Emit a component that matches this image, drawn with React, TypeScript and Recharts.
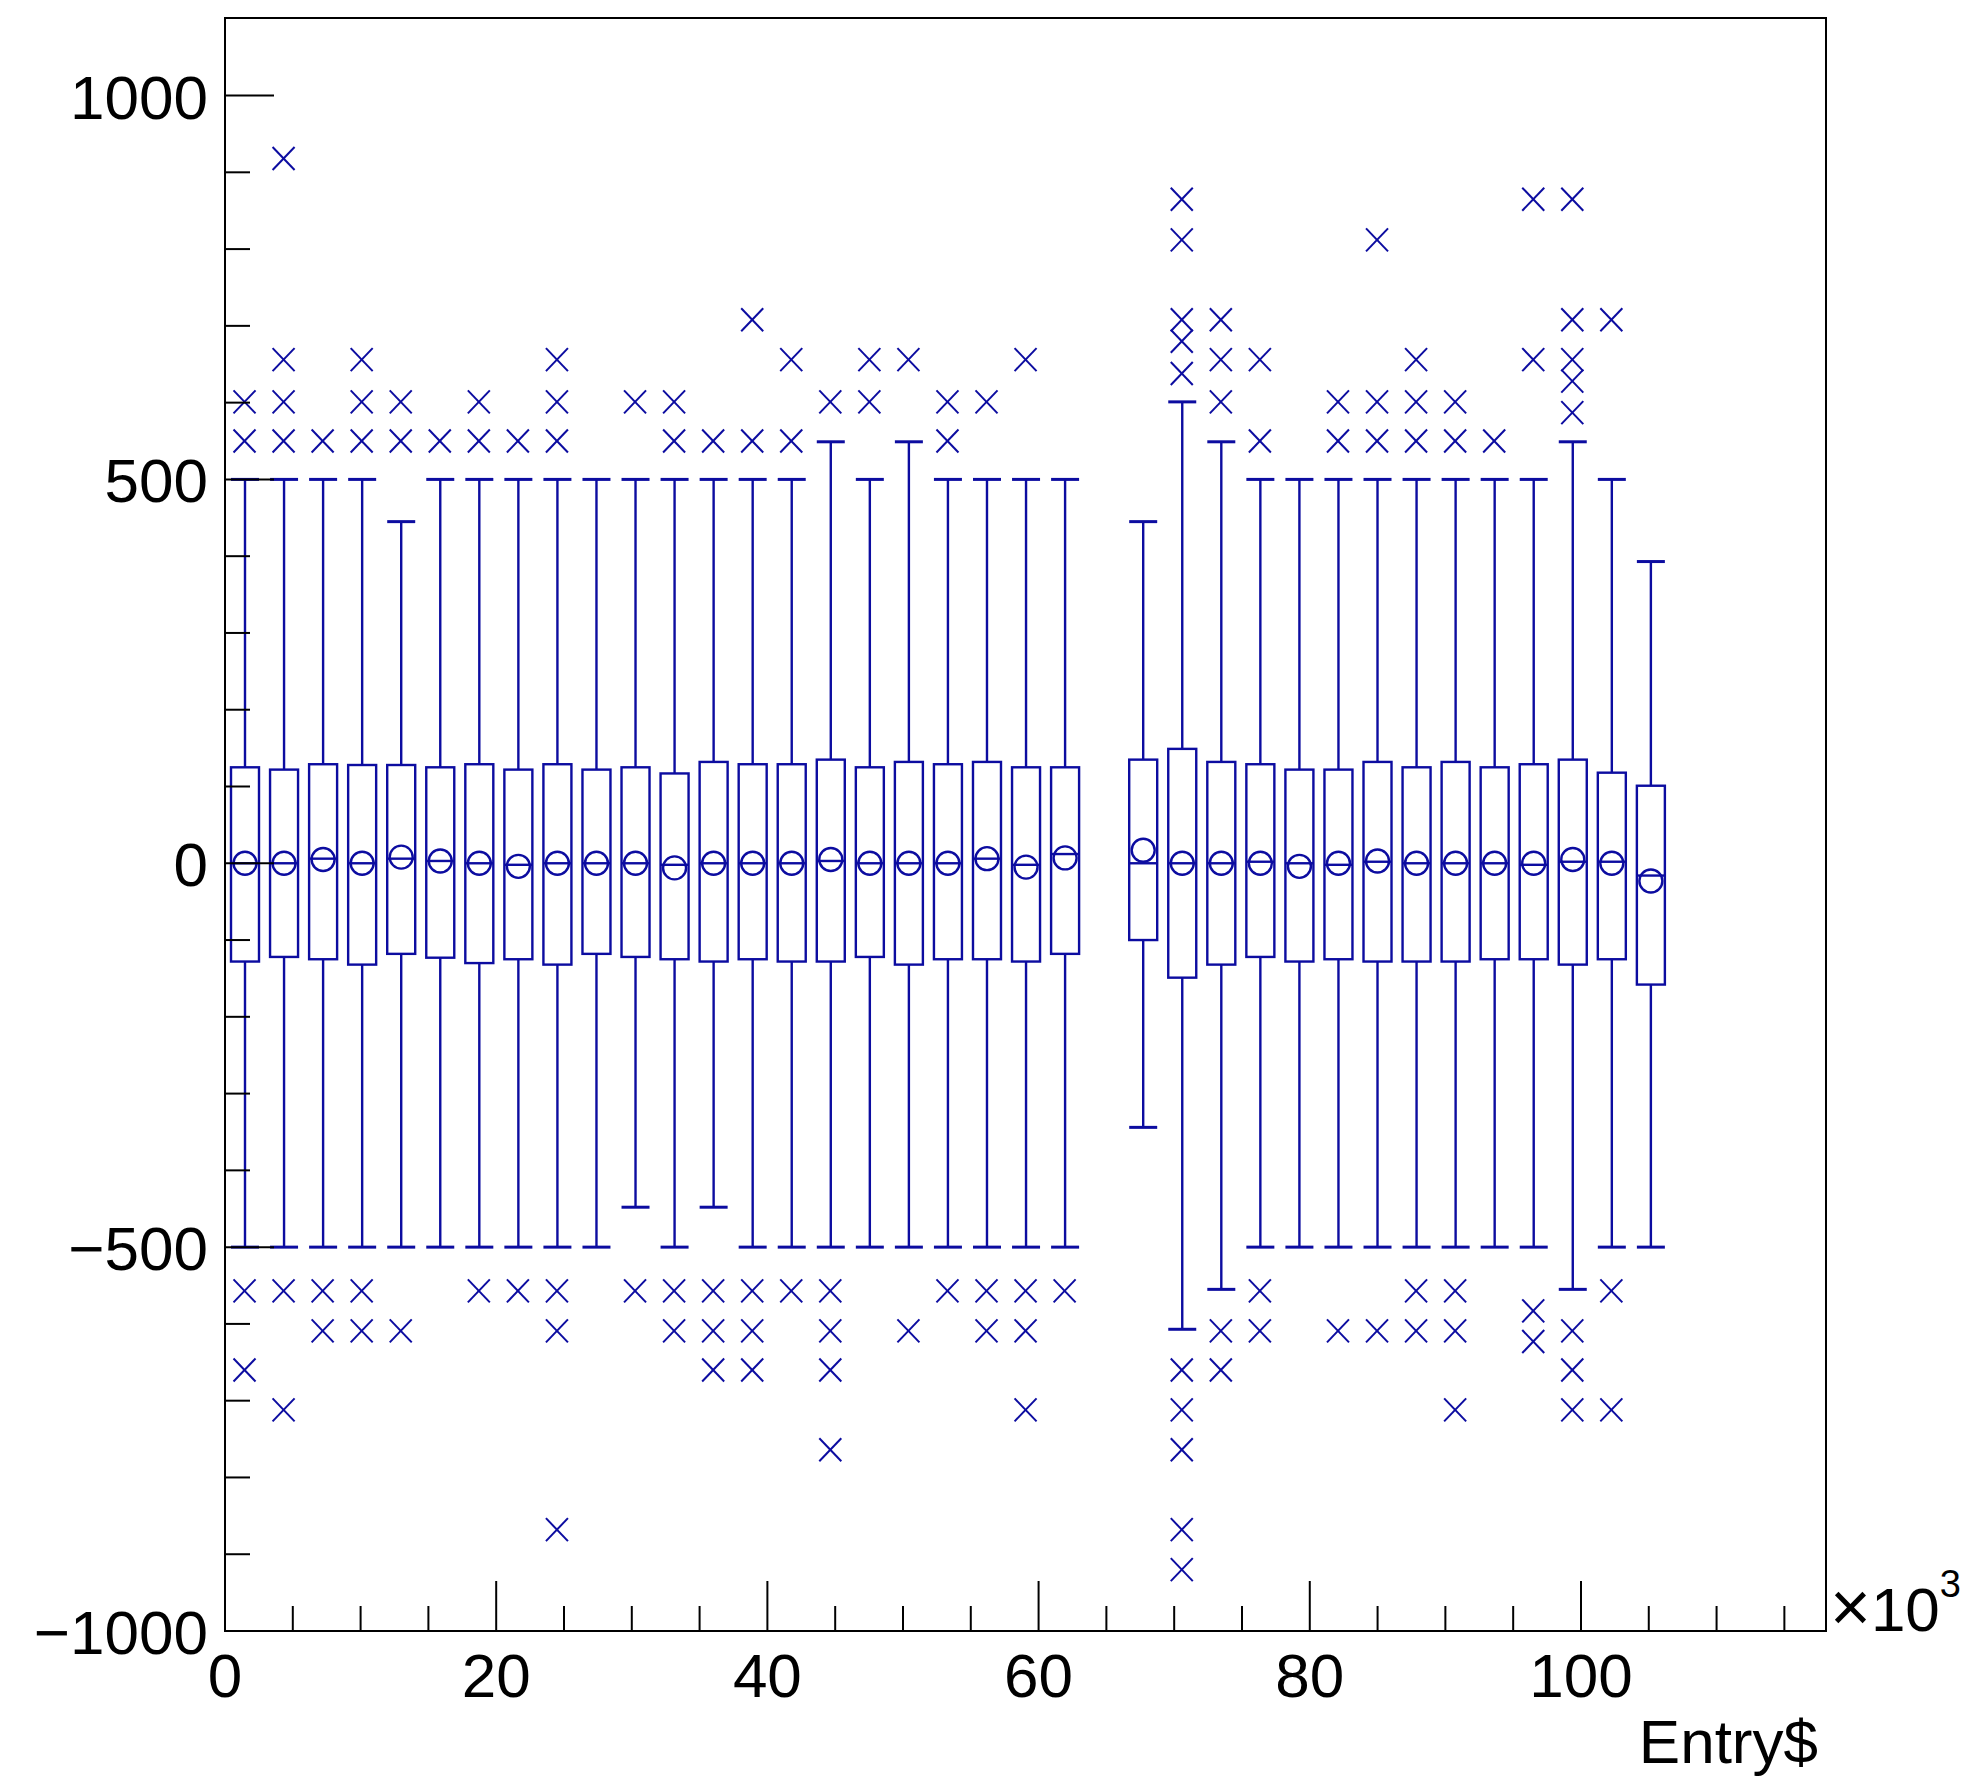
import { Bar, ComposedChart, ReferenceArea, Scatter, XAxis, YAxis } from "recharts"

// bin centres along Entry$ (x10^3), one box per filled bin
const binCenters = [
  1.44, 4.32, 7.2, 10.08, 12.96, 15.84, 18.72, 21.6, 24.48, 27.36, 30.24, 33.12, 36, 38.88, 41.76, 44.64, 47.52,
  50.4, 53.28, 56.16, 59.04, 61.92, 67.68, 70.56, 73.44, 76.32, 79.2, 82.08, 84.96, 87.84, 90.72, 93.6, 96.48,
  99.36, 102.24, 105.12,
]

const upperQuartile = [
  125, 122, 129, 128, 128, 125, 129, 122, 129, 122, 125, 117, 132, 129, 129, 135, 125, 132, 129, 132, 125, 125,
  135, 149, 132, 129, 122, 122, 132, 125, 132, 125, 129, 135, 118, 101,
]
const lowerQuartile = [
  -128, -122, -125, -132, -118, -123, -130, -125, -132, -118, -122, -125, -128, -125, -128, -128, -122, -132, -125,
  -125, -128, -118, -100, -149, -132, -122, -128, -125, -128, -128, -128, -125, -125, -132, -125, -158,
]
const medians = [
  0, 0, 6, 0, 6, 3, 0, -2, 0, 0, 0, -2, 0, 0, 0, 3, 0, 0, 0, 6, -2, 12, 0, 0, 0, 2, 0, -2, 2, 0, 0, 0, -2, 2, 2, -16,
]
const means = [
  0, 0, 5, 0, 8, 3, 0, -4, 0, 0, 0, -6, 0, 0, 0, 5, 0, 0, 0, 6, -5, 7, 17, 0, 0, 0, -4, 0, 3, 0, 0, 0, 0, 5, 0, -23,
]
const whiskerHigh = [
  500, 500, 500, 500, 445, 500, 500, 500, 500, 500, 500, 500, 500, 500, 500, 549, 500, 549, 500, 500, 500, 500,
  445, 601, 549, 500, 500, 500, 500, 500, 500, 500, 500, 549, 500, 393,
]
const whiskerLow = [
  -500, -500, -500, -500, -500, -500, -500, -500, -500, -500, -448, -500, -448, -500, -500, -500, -500, -500, -500,
  -500, -500, -500, -344, -607, -555, -500, -500, -500, -500, -500, -500, -500, -500, -555, -500, -500,
]

const outliersHigh = [
  [550, 601], [550, 601, 656, 918], [550], [550, 601, 656], [550, 601], [550], [550, 601], [550],
  [550, 601, 656], [], [601], [550, 601], [550], [550, 708], [550, 656], [601], [601, 656], [656],
  [550, 601], [601], [656], [],
  [], [638, 680, 708, 812, 865], [601, 656, 708], [550, 656], [], [550, 601], [550, 601, 812],
  [550, 601, 656], [550, 601], [550], [656, 865], [587, 628, 656, 708, 865], [708], [],
]
const outliersLow = [
  [-557, -660], [-557, -712], [-557, -609], [-557, -609], [-609], [], [-557], [-557], [-557, -609, -868], [],
  [-557], [-557, -609], [-557, -609, -660], [-557, -609, -660], [-557], [-557, -609, -660, -764], [], [-609],
  [-557], [-557, -609], [-557, -609, -712], [-557],
  [], [-660, -712, -764, -868, -920], [-609, -660], [-557, -609], [], [-609], [-609], [-557, -609],
  [-557, -609, -712], [], [-583, -623], [-609, -660, -712], [-557, -712], [],
]

const xTicks = [0, 5, 10, 15, 20, 25, 30, 35, 40, 45, 50, 55, 60, 65, 70, 75, 80, 85, 90, 95, 100, 105, 110, 115]
const yTicks = [-1000, -900, -800, -700, -600, -500, -400, -300, -200, -100, 0, 100, 200, 300, 400, 500, 600, 700, 800, 900, 1000]

const X_MAX = 118.07
const Y_MIN = -1000
const Y_MAX = 1101

const BLUE = "#0c0ca0"
const FONT = "'Liberation Sans', Arial, Helvetica, sans-serif"

const boxData = binCenters.map((x, i) => ({
  x,
  box: [lowerQuartile[i], upperQuartile[i]],
  q1: lowerQuartile[i],
  q3: upperQuartile[i],
  median: medians[i],
  mean: means[i],
  low: whiskerLow[i],
  high: whiskerHigh[i],
}))

const outlierData = binCenters.flatMap((x, i) =>
  [...outliersHigh[i], ...outliersLow[i]].map((y) => ({ x, y }))
)

function BoxShape(props: any) {
  const { x, y, width, height, payload } = props
  if (!payload) return null
  const { q1, q3, median, mean, low, high } = payload
  const k = height / (q3 - q1)
  const yOf = (v: number) => y + (q3 - v) * k
  const cx = x + width / 2
  const half = width / 2
  return (
    <g stroke={BLUE} strokeWidth={2.4} fill="none">
      <line x1={cx} x2={cx} y1={yOf(high)} y2={y} />
      <line x1={cx} x2={cx} y1={y + height} y2={yOf(low)} />
      <line x1={cx - half} x2={cx + half} y1={yOf(high)} y2={yOf(high)} strokeWidth={3} />
      <line x1={cx - half} x2={cx + half} y1={yOf(low)} y2={yOf(low)} strokeWidth={3} />
      <rect x={x} y={y} width={width} height={height} />
      <line x1={x} x2={x + width} y1={yOf(median)} y2={yOf(median)} />
      <circle cx={cx} cy={yOf(mean)} r={11.5} />
    </g>
  )
}

function CrossShape(props: any) {
  const { cx, cy } = props
  return (
    <g stroke={BLUE} strokeWidth={2}>
      <line x1={cx - 11} y1={cy - 11.5} x2={cx + 11} y2={cy + 11.5} />
      <line x1={cx - 11} y1={cy + 11.5} x2={cx + 11} y2={cy - 11.5} />
    </g>
  )
}

function XTick(props: any) {
  const { x, y, payload } = props
  const major = payload.value % 20 === 0
  return (
    <g>
      <line x1={x} x2={x} y1={y} y2={y - (major ? 50 : 25)} stroke="#000" strokeWidth={2} />
      {major && (
        <text x={x} y={y + 66} textAnchor="middle" fontSize={62} fontFamily={FONT} fill="#000">
          {payload.value}
        </text>
      )}
    </g>
  )
}

function YTick(props: any) {
  const { x, y, payload } = props
  const v = payload.value
  const major = v % 500 === 0
  const label = v < 0 ? `\u2212${Math.abs(v)}` : `${v}`
  return (
    <g>
      <line x1={x} x2={x + (major ? 49 : 25)} y1={y} y2={y} stroke="#000" strokeWidth={2} />
      {major && (
        <text x={x - 17} y={y + 23} textAnchor="end" fontSize={62} fontFamily={FONT} fill="#000">
          {label}
        </text>
      )}
    </g>
  )
}

function XTitle(props: any) {
  const vb = props.viewBox
  const right = vb.x + vb.width
  return (
    <g fontFamily={FONT} fill="#000">
      <text x={right + 4} y={vb.y} fontSize={62}>
        <tspan fontSize={70}>{"\u00d7"}</tspan>
        <tspan>10</tspan>
        <tspan dy={-34} fontSize={38}>3</tspan>
      </text>
      <text x={right - 8} y={vb.y + 132} fontSize={62} textAnchor="end">
        Entry$
      </text>
    </g>
  )
}

export default function App() {
  return (
    <div style={{ position: "absolute", left: 0, top: 0, background: "#fff" }}>
      <ComposedChart width={1982} height={1779} data={boxData} margin={{ top: 18, right: 156, bottom: 0, left: 0 }}>
        <XAxis
          type="number"
          dataKey="x"
          domain={[0, X_MAX]}
          ticks={xTicks}
          interval={0}
          height={148}
          tickSize={0}
          tickMargin={0}
          tickLine={false}
          axisLine={{ stroke: "#000", strokeWidth: 2 }}
          tick={<XTick />}
          label={{ content: XTitle }}
        />
        <YAxis
          type="number"
          domain={[Y_MIN, Y_MAX]}
          ticks={yTicks}
          interval={0}
          width={225}
          tickSize={0}
          tickMargin={0}
          tickLine={false}
          axisLine={{ stroke: "#000", strokeWidth: 2 }}
          tick={<YTick />}
        />
        <ReferenceArea x1={0} x2={X_MAX} y1={Y_MIN} y2={Y_MAX} fill="none" stroke="#000" strokeWidth={2} />
        <Bar dataKey="box" barSize={28} shape={<BoxShape />} isAnimationActive={false} />
        <Scatter data={outlierData} dataKey="y" shape={<CrossShape />} isAnimationActive={false} />
      </ComposedChart>
    </div>
  )
}
